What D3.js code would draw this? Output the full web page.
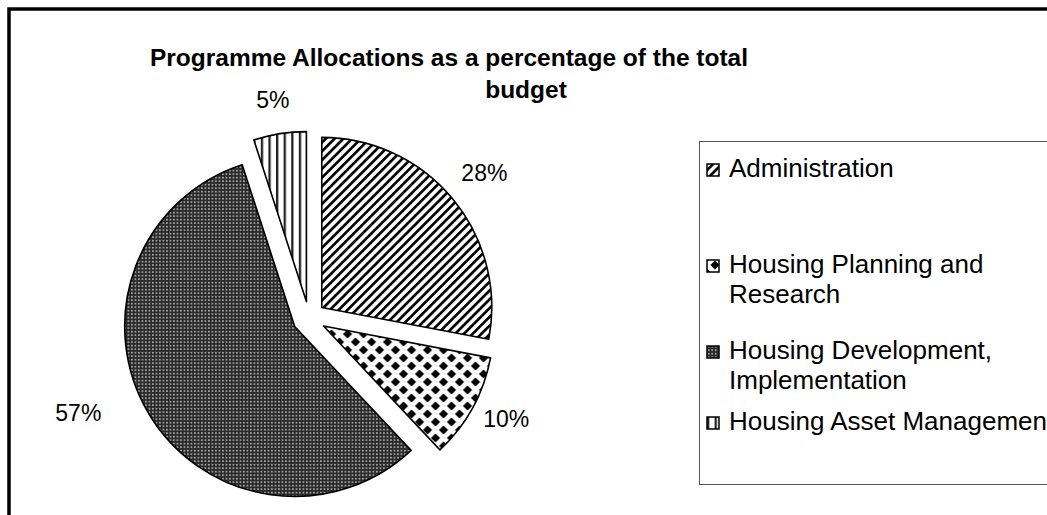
<!DOCTYPE html>
<html>
<head>
<meta charset="utf-8">
<script src="https://cdn.jsdelivr.net/npm/d3@7"></script>
<style>
  body { margin: 0; background: #fff; }
  svg { display: block; font-family: "Liberation Sans", Arial, sans-serif; }
</style>
</head>
<body>
<div id="chart"></div>
<script>
// data
const categories = ["Administration", "Housing Planning and Research", "Housing Development, Implementation", "Housing Asset Management"];
const shares = [28, 10, 57, 5];
const legendLines = [["Administration"], ["Housing Planning and", "Research"], ["Housing Development,", "Implementation"], ["Housing Asset Management"]];
const titleLines = ["Programme Allocations as a percentage of the total", "budget"];
const patternIds = ["pDiag", "pDiamond", "pDots", "pVert"];

const width = 1047;
const height = 515;
const cx = 309, cy = 318;
const radius = 170;
const explode = 16.6;
const labelRadius = 225;
// best-fit label nudges (layout only)
const labelNudge = [[2, -2], [0, -7], [-37, -20], [-1, 4]];

const svg = d3.select("#chart")
    .append("svg")
    .attr("width", width)
    .attr("height", height);

svg.append("rect").attr("width", width).attr("height", height).attr("fill", "#fff");

// patterns
const defs = svg.append("defs");

const diag = defs.append("pattern")
    .attr("id", "pDiag")
    .attr("patternUnits", "userSpaceOnUse")
    .attr("width", 6.2).attr("height", 6.2)
    .attr("patternTransform", "rotate(45)");
diag.append("rect").attr("width", 6.2).attr("height", 6.2).attr("fill", "#fff");
diag.append("rect").attr("width", 2.7).attr("height", 6.2).attr("fill", "#000");

const diamond = defs.append("pattern")
    .attr("id", "pDiamond")
    .attr("patternUnits", "userSpaceOnUse")
    .attr("width", 16).attr("height", 16);
diamond.append("rect").attr("width", 16).attr("height", 16).attr("fill", "#fff");
[[0, 0], [16, 0], [0, 16], [16, 16], [8, 8]].forEach(([x, y]) => {
    diamond.append("path")
        .attr("d", `M${x},${y - 4.6}L${x + 4.6},${y}L${x},${y + 4.6}L${x - 4.6},${y}Z`)
        .attr("fill", "#000");
});

const dots = defs.append("pattern")
    .attr("id", "pDots")
    .attr("patternUnits", "userSpaceOnUse")
    .attr("width", 3.5).attr("height", 3.5);
dots.append("rect").attr("width", 3.5).attr("height", 3.5).attr("fill", "#2b2b2b");
dots.append("rect").attr("x", 1).attr("y", 1).attr("width", 1.4).attr("height", 1.4).attr("fill", "#dcdcdc");

const vert = defs.append("pattern")
    .attr("id", "pVert")
    .attr("patternUnits", "userSpaceOnUse")
    .attr("width", 7.6).attr("height", 8);
vert.append("rect").attr("width", 7.6).attr("height", 8).attr("fill", "#fff");
vert.append("rect").attr("width", 2.3).attr("height", 8).attr("fill", "#222");

// outer border
svg.append("rect")
    .attr("x", 9).attr("y", 9)
    .attr("width", width + 20).attr("height", height + 20)
    .attr("fill", "none")
    .attr("stroke", "#000")
    .attr("stroke-width", 3.5);

// title
svg.append("g")
    .selectAll("text")
    .data(titleLines)
    .join("text")
        .attr("x", (d, i) => i === 0 ? 449 : 526)
        .attr("y", (d, i) => 66 + i * 32)
        .attr("text-anchor", "middle")
        .attr("font-size", 24.5)
        .attr("font-weight", "bold")
        .text(d => d);

// pie
const pie = d3.pie().sort(null).value(d => d);
const arcs = pie(shares);
const arc = d3.arc().innerRadius(0).outerRadius(radius);
const labelArc = d3.arc().innerRadius(labelRadius).outerRadius(labelRadius);

const g = svg.append("g").attr("transform", `translate(${cx},${cy})`);

g.selectAll("path")
    .data(arcs)
    .join("path")
        .attr("d", arc)
        .attr("transform", d => {
            const a = (d.startAngle + d.endAngle) / 2;
            return `translate(${Math.sin(a) * explode},${-Math.cos(a) * explode})`;
        })
        .attr("fill", (d, i) => `url(#${patternIds[i]})`)
        .attr("stroke", "#000")
        .attr("stroke-width", 1.6)
        .attr("stroke-linejoin", "round");

g.selectAll("text")
    .data(arcs)
    .join("text")
        .attr("transform", (d, i) => {
            const [x, y] = labelArc.centroid(d);
            return `translate(${x + labelNudge[i][0]},${y + labelNudge[i][1]})`;
        })
        .attr("text-anchor", "middle")
        .attr("dy", "0.35em")
        .attr("font-size", 23)
        .text(d => d.data + "%");

// legend
const legend = svg.append("g");
legend.append("rect")
    .attr("x", 699.5).attr("y", 141.5)
    .attr("width", 400).attr("height", 343)
    .attr("fill", "#fff")
    .attr("stroke", "#555")
    .attr("stroke-width", 1);

const itemY = [177, 273, 359, 430];
const items = legend.selectAll("g.item")
    .data(categories)
    .join("g")
        .attr("class", "item")
        .attr("transform", (d, i) => `translate(707,${itemY[i]})`);

items.append("rect")
    .attr("x", 0).attr("y", -13)
    .attr("width", 12).attr("height", 12)
    .attr("fill", (d, i) => `url(#${patternIds[i]})`)
    .attr("stroke", "#000")
    .attr("stroke-width", 1.5);

items.append("text")
    .attr("x", 22)
    .attr("font-size", 26)
    .selectAll("tspan")
    .data((d, i) => legendLines[i])
    .join("tspan")
        .attr("x", 22)
        .attr("dy", (d, j) => j === 0 ? 0 : 29.5)
        .text(d => d);
</script>
</body>
</html>
